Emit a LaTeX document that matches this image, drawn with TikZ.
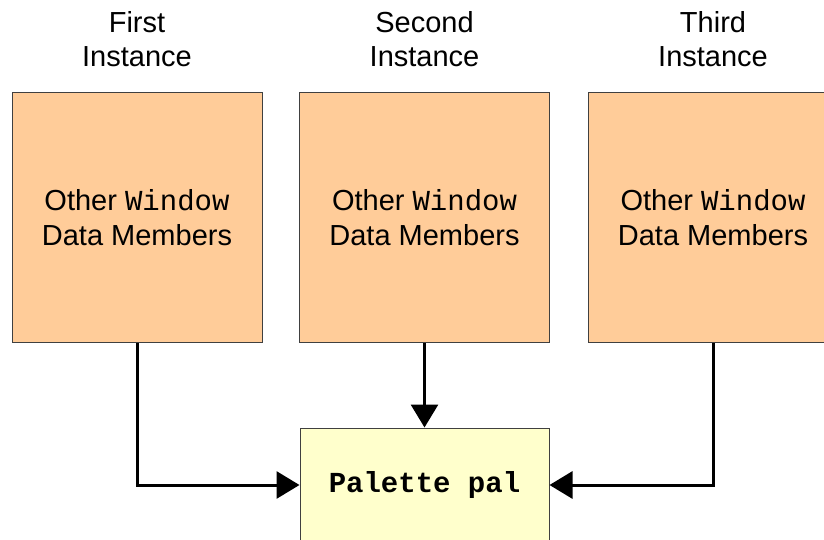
\documentclass[tikz,border=0pt]{standalone}
\usepackage{fontspec}
\setmainfont{Liberation Sans}
\setmonofont{Liberation Mono}
\usetikzlibrary{arrows.meta}

\definecolor{peach}{HTML}{FFCC99}
\definecolor{paleyellow}{HTML}{FFFFCC}
\definecolor{edgegray}{HTML}{404040}

\def\boxWidth{250pt}
\def\boxHeight{250pt}
\def\palWidth{249pt}
\def\palHeight{114pt}
\def\boxRow{217.5}
\def\lblRow{39.3}

\tikzset{
  instbox/.style={draw=edgegray,fill=peach,line width=1pt,minimum width=\boxWidth,
    minimum height=\boxHeight,inner sep=0pt,align=center,font=\fontsize{29}{35}\selectfont},
  palbox/.style={draw=edgegray,fill=paleyellow,line width=1pt,minimum width=\palWidth,
    minimum height=\palHeight,inner sep=0pt,font=\fontsize{29}{35}\selectfont\ttfamily\bfseries},
  lbl/.style={inner sep=0pt,align=center,font=\fontsize{29}{34}\selectfont},
  conn/.style={line width=3pt,-{Triangle[length=23pt,width=27pt]}}
}

\begin{document}
\begin{tikzpicture}[x=1pt,y=-1pt]
    \useasboundingbox (0,0) rectangle (824,540);
    \clip (0,0) rectangle (824,540);

    \foreach \n/\x/\t in {first/137/First,second/424.5/Second,third/713/Third} {
      \node[instbox] (\n) at (\x,\boxRow) {Other \texttt{Window}\\Data Members};
      \node[lbl] (\n lbl) at (\x,\lblRow) {\t\\Instance};
    }

    \node[palbox] (pal) at (424.5,485) {Palette pal};

    \draw[conn] (first.south) |- (pal.west);
    \draw[conn] (second.south) -- (pal.north);
    \draw[conn] (third.south) |- (pal.east);
  \end{tikzpicture}
\end{document}
